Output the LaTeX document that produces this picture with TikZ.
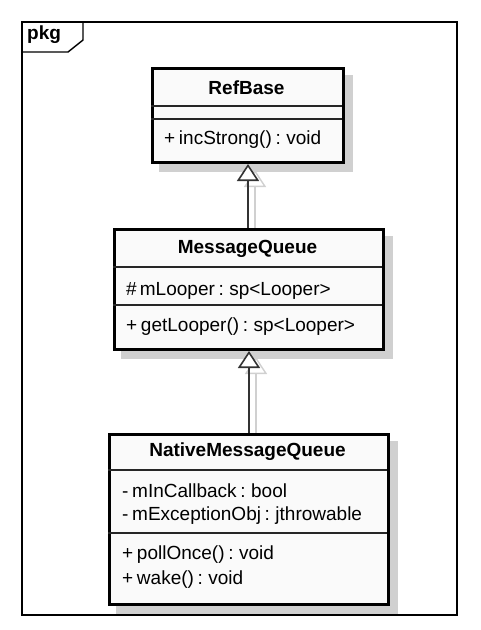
\documentclass[tikz,border=0pt]{standalone}
\usepackage{fontspec}
\setmainfont[WordSpace=0.7]{Liberation Sans}
\usetikzlibrary{arrows.meta,backgrounds}
\definecolor{shadowc}{RGB}{208,208,208}
\definecolor{boxfill}{RGB}{250,250,250}
\tikzset{
  frame/.style={draw=black, line width=2pt},
  classbox/.style={draw=black, line width=3pt, fill=boxfill, rectangle, inner sep=0pt, anchor=north west},
  shadowbox/.style={fill=shadowc},
  sepline/.style={draw=black!85, line width=1.3pt},
  title/.style={font=\fontsize{19}{22}\selectfont\bfseries, inner sep=0pt},
  member/.style={font=\fontsize{19}{22}\selectfont, inner sep=0pt, anchor=west},
  gen/.style={draw=black!80, line width=1.6pt, -{Triangle[width=22pt,length=17pt,fill=white,line width=1.6pt]}},
  genshadow/.style={draw=shadowc, line width=1.4pt, -{Triangle[width=22pt,length=17pt,fill=white,line width=1.4pt]}}
}
\begin{document}
\begin{tikzpicture}[x=1pt,y=-1pt]
\useasboundingbox (0,0) rectangle (481,630);
% outer package frame
\draw[frame] (22,22) rectangle (457,615);
\draw[line width=1.4pt] (22,52) -- (68,52) -- (83,40) -- (83,22);
\node[font=\fontsize{19}{22}\selectfont\bfseries, inner sep=0pt, anchor=west] (pkg) at (27,35) {pkg};

% RefBase
\node[classbox, minimum width=191pt, minimum height=94pt] (rb) at (151,67) {};
\draw[sepline] (151,106) -- (342,106);
\draw[sepline] (151,119) -- (342,119);
\node[title] (rbt) at (246.5,88) {RefBase};
\node[member] (rbm) at (164,140) {+ incStrong() : void};

% MessageQueue
\node[classbox, minimum width=269pt, minimum height=120pt] (mq) at (113,228) {};
\draw[sepline] (113,267) -- (382,267);
\draw[sepline] (113,305) -- (382,305);
\node[title] (mqt) at (247.5,249) {MessageQueue};
\node[member] (mqa) at (126,291) {\#\,mLooper : sp<Looper>};
\node[member] (mqm) at (126,327) {+ getLooper() : sp<Looper>};

% NativeMessageQueue
\node[classbox, minimum width=279pt, minimum height=170pt] (nmq) at (108,433) {};
\draw[sepline] (108,470) -- (387,470);
\draw[sepline] (108,533) -- (387,533);
\node[title] (nmqt) at (247.5,452) {NativeMessageQueue};
\node[member] (nmqa1) at (122,491) {- mInCallback : bool};
\node[member] (nmqa2) at (122,516) {- mExceptionObj : jthrowable};
\node[member] (nmqm1) at (122,555) {+ pollOnce() : void};
\node[member] (nmqm2) at (122,580) {+ wake() : void};

% generalizations
\draw[gen] (mq.north -| rb.south) -- (rb.south);
\draw[gen] (nmq.north -| mq.south) -- (mq.south);

% drop shadows behind everything
\begin{scope}[on background layer]
\fill[shadowbox] ([shift={(8pt,-8pt)}]rb.north west) rectangle ([shift={(8pt,-8pt)}]rb.south east);
\fill[shadowbox] ([shift={(8pt,-8pt)}]mq.north west) rectangle ([shift={(8pt,-8pt)}]mq.south east);
\fill[shadowbox] ([shift={(8pt,-8pt)}]nmq.north west) rectangle ([shift={(8pt,-8pt)}]nmq.south east);
\draw[genshadow, transform canvas={xshift=7pt,yshift=-6pt}] (mq.north -| rb.south) -- (rb.south);
\draw[genshadow, transform canvas={xshift=7pt,yshift=-6pt}] (nmq.north -| mq.south) -- (mq.south);
\end{scope}
\end{tikzpicture}
\end{document}
